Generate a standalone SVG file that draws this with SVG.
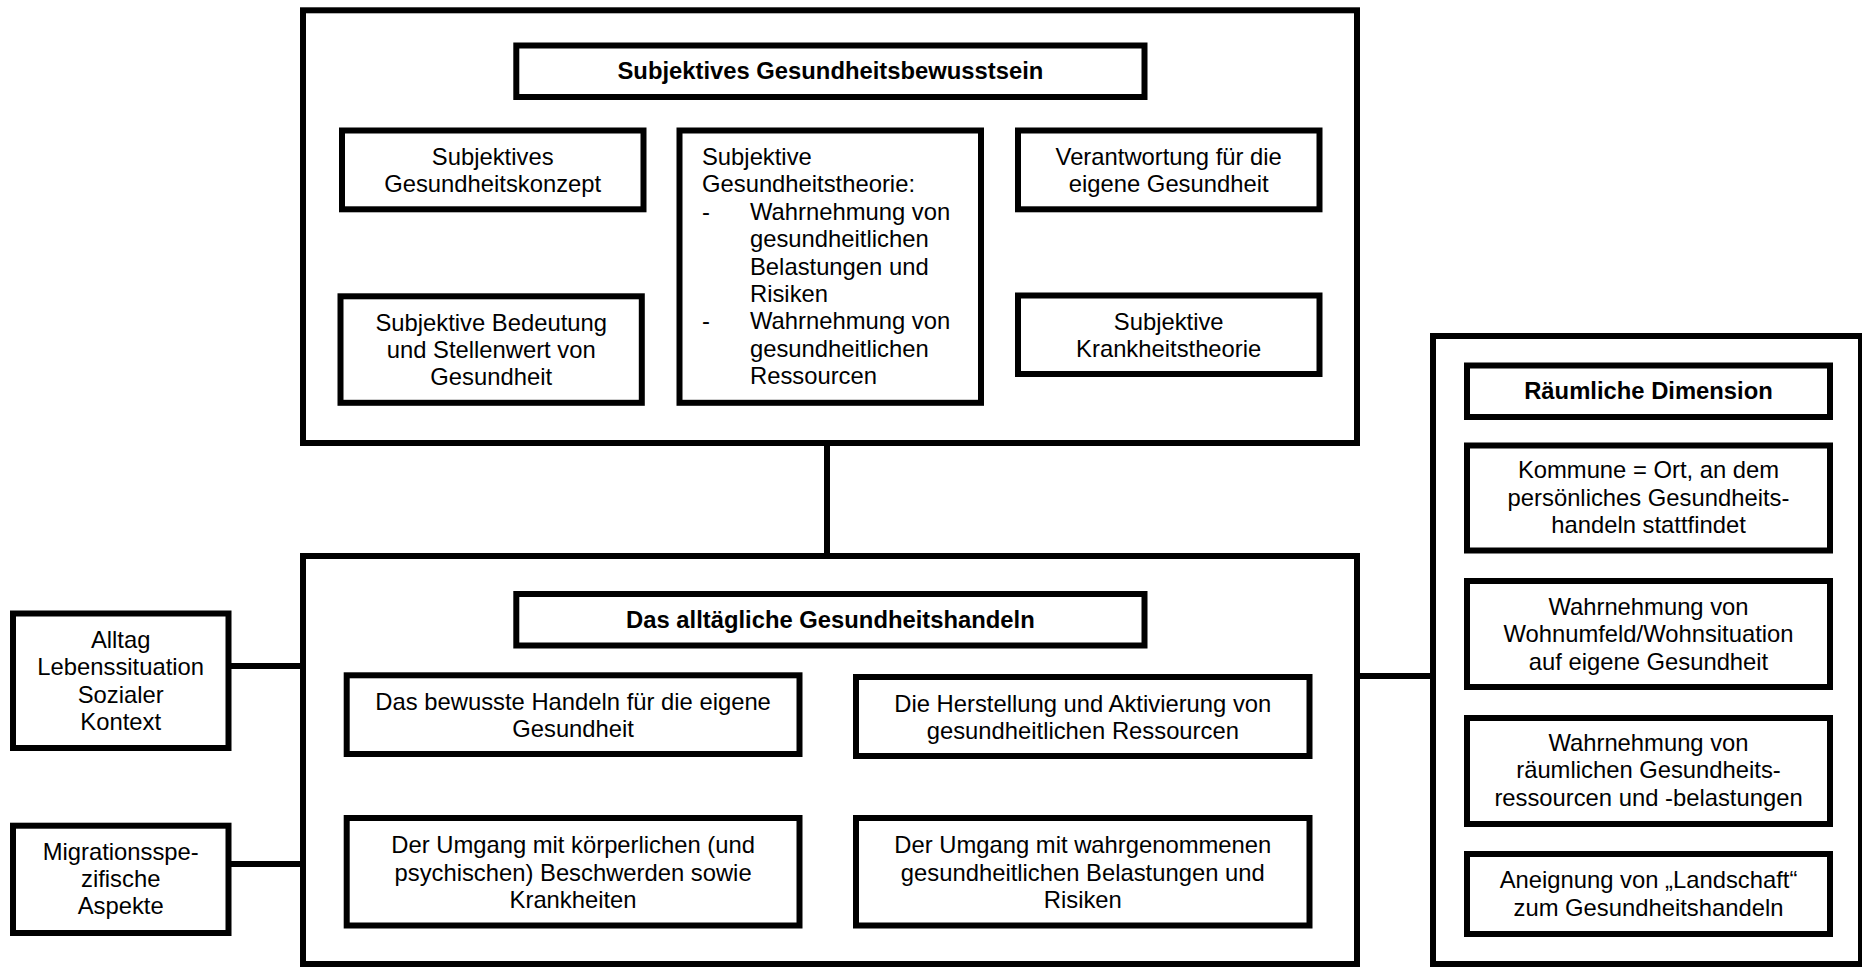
<svg xmlns="http://www.w3.org/2000/svg" width="1862" height="967" viewBox="0 0 1862 967">
  <style>
    .box { fill: #ffffff; stroke: #000000; stroke-width: 6; }
    .link { fill: none; stroke: #000000; stroke-width: 6; }
    text { font-family: "Liberation Sans", Arial, sans-serif; font-size: 23.8px; fill: #000000; }
    .c { text-anchor: middle; }
    .b { font-weight: bold; }
  </style>
  <rect width="1862" height="967" fill="#ffffff"/>

  <!-- connectors -->
  <g id="connectors">
    <path class="link" d="M827 443 V556"/>
    <path class="link" d="M228.5 666 H303"/>
    <path class="link" d="M228.5 864 H303"/>
    <path class="link" d="M1357 676 H1433"/>
  </g>

  <!-- upper panel: subjective health awareness -->
  <g id="panel-bewusstsein">
    <rect class="box" x="303" y="10.3" width="1054" height="432.7"/>
  </g>
  <g id="title-bewusstsein">
    <rect class="box" x="516.3" y="45.5" width="628.2" height="51.5"/>
    <text class="c b" x="830.4" y="79">Subjektives Gesundheitsbewusstsein</text>
  </g>
  <g id="node-konzept">
    <rect class="box" x="342" y="130.5" width="301.5" height="78.8"/>
    <text class="c" x="492.7" y="165">Subjektives</text>
    <text class="c" x="492.7" y="192">Gesundheitskonzept</text>
  </g>
  <g id="node-theorie">
    <rect class="box" x="679.5" y="130.5" width="301.5" height="272.3"/>
    <text x="702" y="165">Subjektive</text>
    <text x="702" y="192.4">Gesundheitstheorie:</text>
    <text x="702" y="219.8">-</text>
    <text x="750" y="219.8">Wahrnehmung von</text>
    <text x="750" y="247.2">gesundheitlichen</text>
    <text x="750" y="274.6">Belastungen und</text>
    <text x="750" y="302">Risiken</text>
    <text x="702" y="329.4">-</text>
    <text x="750" y="329.4">Wahrnehmung von</text>
    <text x="750" y="356.8">gesundheitlichen</text>
    <text x="750" y="384.2">Ressourcen</text>
  </g>
  <g id="node-verantwortung">
    <rect class="box" x="1018" y="130.5" width="301.5" height="78.8"/>
    <text class="c" x="1168.7" y="165">Verantwortung für die</text>
    <text class="c" x="1168.7" y="192">eigene Gesundheit</text>
  </g>
  <g id="node-bedeutung">
    <rect class="box" x="340.5" y="296.3" width="301.3" height="106.5"/>
    <text class="c" x="491.2" y="331">Subjektive Bedeutung</text>
    <text class="c" x="491.2" y="358">und Stellenwert von</text>
    <text class="c" x="491.2" y="385">Gesundheit</text>
  </g>
  <g id="node-krankheitstheorie">
    <rect class="box" x="1018" y="295.5" width="301.5" height="78.5"/>
    <text class="c" x="1168.7" y="330">Subjektive</text>
    <text class="c" x="1168.7" y="357">Krankheitstheorie</text>
  </g>

  <!-- lower panel: everyday health behaviour -->
  <g id="panel-handeln">
    <rect class="box" x="303" y="556" width="1054" height="408"/>
  </g>
  <g id="title-handeln">
    <rect class="box" x="516.3" y="594" width="628.2" height="51.5"/>
    <text class="c b" x="830.4" y="628.3">Das alltägliche Gesundheitshandeln</text>
  </g>
  <g id="node-bewusst">
    <rect class="box" x="346.7" y="675.3" width="452.8" height="78.7"/>
    <text class="c" x="573.1" y="710">Das bewusste Handeln für die eigene</text>
    <text class="c" x="573.1" y="737">Gesundheit</text>
  </g>
  <g id="node-herstellung">
    <rect class="box" x="856" y="677" width="453.5" height="79"/>
    <text class="c" x="1082.8" y="711.7">Die Herstellung und Aktivierung von</text>
    <text class="c" x="1082.8" y="738.5">gesundheitlichen Ressourcen</text>
  </g>
  <g id="node-beschwerden">
    <rect class="box" x="346.7" y="818" width="452.8" height="107.5"/>
    <text class="c" x="573.1" y="853.3">Der Umgang mit körperlichen (und</text>
    <text class="c" x="573.1" y="880.7">psychischen) Beschwerden sowie</text>
    <text class="c" x="573.1" y="908">Krankheiten</text>
  </g>
  <g id="node-belastungen">
    <rect class="box" x="856" y="818" width="453.5" height="107.5"/>
    <text class="c" x="1082.8" y="853.3">Der Umgang mit wahrgenommenen</text>
    <text class="c" x="1082.8" y="880.5">gesundheitlichen Belastungen und</text>
    <text class="c" x="1082.8" y="907.5">Risiken</text>
  </g>

  <!-- context boxes on the left -->
  <g id="node-alltag">
    <rect class="box" x="13" y="613.5" width="215.5" height="134.5"/>
    <text class="c" x="120.7" y="648">Alltag</text>
    <text class="c" x="120.7" y="675.4">Lebenssituation</text>
    <text class="c" x="120.7" y="702.8">Sozialer</text>
    <text class="c" x="120.7" y="730.2">Kontext</text>
  </g>
  <g id="node-migration">
    <rect class="box" x="13" y="825.7" width="215.5" height="107.3"/>
    <text class="c" x="120.7" y="859.5">Migrationsspe-</text>
    <text class="c" x="120.7" y="886.7">zifische</text>
    <text class="c" x="120.7" y="913.5">Aspekte</text>
  </g>

  <!-- right panel: spatial dimension -->
  <g id="panel-raum">
    <rect class="box" x="1433" y="336" width="428" height="628"/>
  </g>
  <g id="title-raum">
    <rect class="box" x="1467" y="365.5" width="363" height="51.5"/>
    <text class="c b" x="1648.5" y="399.3">Räumliche Dimension</text>
  </g>
  <g id="node-kommune">
    <rect class="box" x="1467" y="445.5" width="363" height="105"/>
    <text class="c" x="1648.5" y="478.3">Kommune = Ort, an dem</text>
    <text class="c" x="1648.5" y="505.7">persönliches Gesundheits-</text>
    <text class="c" x="1648.5" y="533.1">handeln stattfindet</text>
  </g>
  <g id="node-wohnumfeld">
    <rect class="box" x="1467" y="581" width="363" height="106"/>
    <text class="c" x="1648.5" y="615">Wahrnehmung von</text>
    <text class="c" x="1648.5" y="642.4">Wohnumfeld/Wohnsituation</text>
    <text class="c" x="1648.5" y="669.8">auf eigene Gesundheit</text>
  </g>
  <g id="node-raumressourcen">
    <rect class="box" x="1467" y="718" width="363" height="106"/>
    <text class="c" x="1648.5" y="751">Wahrnehmung von</text>
    <text class="c" x="1648.5" y="778.4">räumlichen Gesundheits-</text>
    <text class="c" x="1648.5" y="805.8">ressourcen und -belastungen</text>
  </g>
  <g id="node-landschaft">
    <rect class="box" x="1467" y="854" width="363" height="80"/>
    <text class="c" x="1648.5" y="888.3">Aneignung von „Landschaft“</text>
    <text class="c" x="1648.5" y="915.7">zum Gesundheitshandeln</text>
  </g>
</svg>
